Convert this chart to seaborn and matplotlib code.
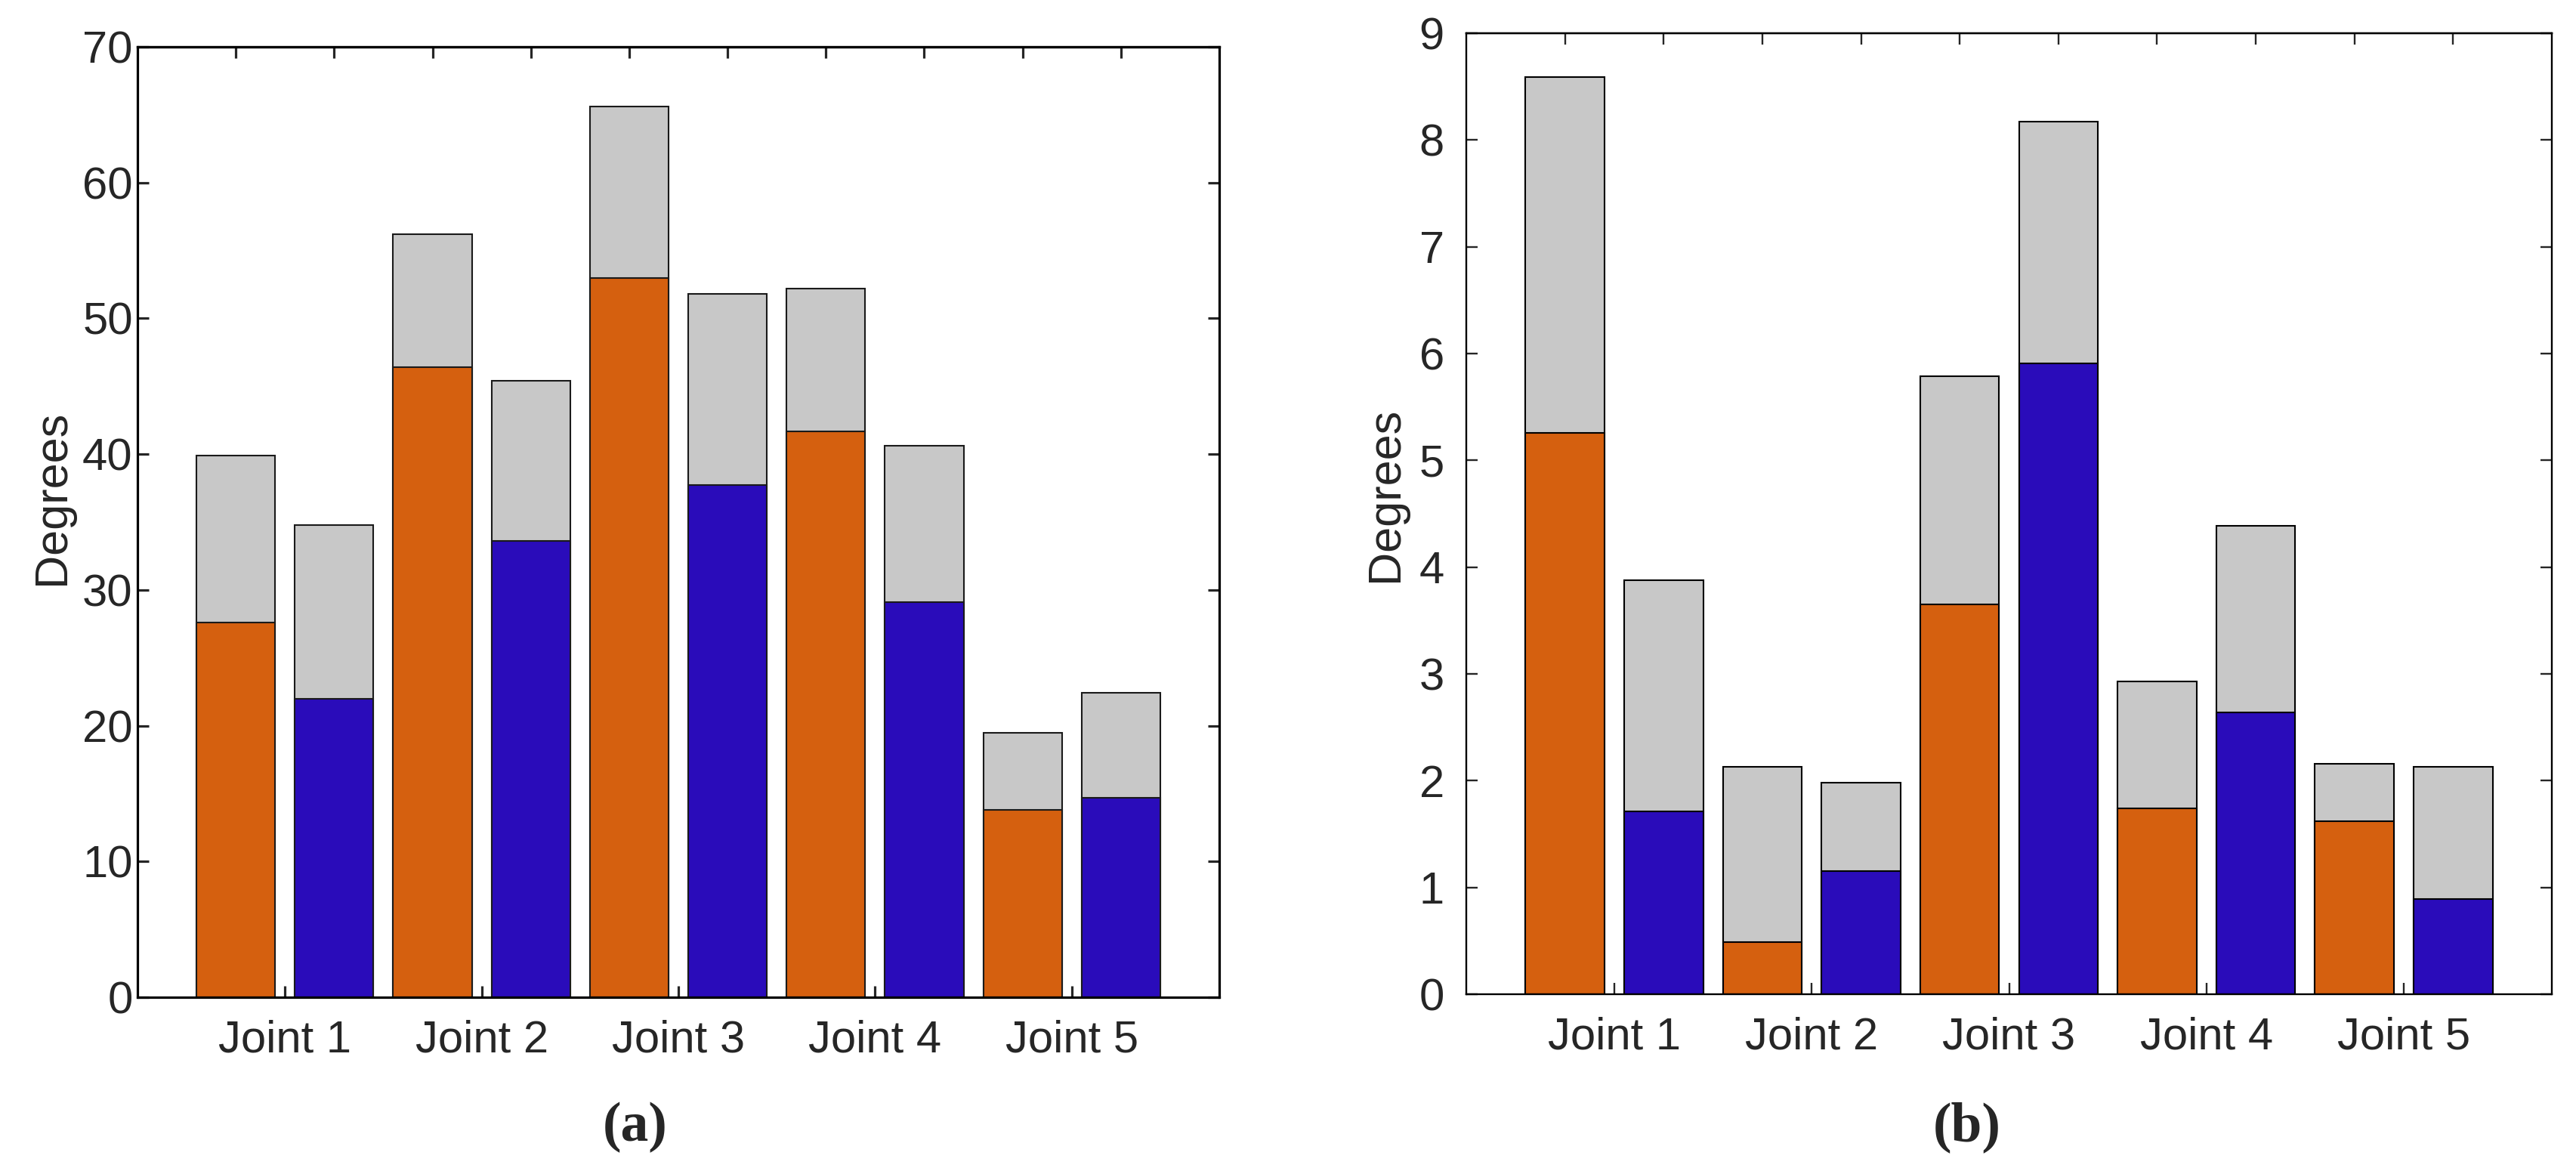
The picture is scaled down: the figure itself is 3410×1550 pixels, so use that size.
import matplotlib
matplotlib.use("Agg")
import matplotlib.pyplot as plt
import seaborn as sns
import pandas as pd
import numpy as np

# ---------------- data ----------------
joints = ["Joint 1", "Joint 2", "Joint 3", "Joint 4", "Joint 5"]
methods = ["A", "B"]  # orange, blue (alternating per joint)

# panel (a): lower (coloured) part and full bar height (grey on top)
a_base = [27.6, 22.0, 46.4, 33.6, 53.0, 37.7, 41.7, 29.1, 13.8, 14.7]
a_total = [39.9, 34.8, 56.2, 45.4, 65.6, 51.8, 52.2, 40.6, 19.5, 22.4]

# panel (b)
b_base = [5.26, 1.71, 0.49, 1.15, 3.65, 5.91, 1.74, 2.64, 1.62, 0.89]
b_total = [8.59, 3.88, 2.13, 1.98, 5.79, 8.17, 2.93, 4.39, 2.16, 2.13]

a_yticks = [0, 10, 20, 30, 40, 50, 60, 70]
b_yticks = [0, 1, 2, 3, 4, 5, 6, 7, 8, 9]
panel_labels = ["(a)", "(b)"]
ylabel = "Degrees"

orange = "#D5600F"
blue = "#2A0CBA"
grey = "#C8C8C8"

# ---------------- style ----------------
sns.set_style("ticks")
plt.rcParams["font.family"] = ["Liberation Sans", "DejaVu Sans"]

fig = plt.figure(figsize=(34.10, 15.50), dpi=100)


def make_df(base, total):
    pos = np.arange(1, len(base) + 1)
    return pd.DataFrame({
        "pos": pos,
        "joint": [joints[(p - 1) // 2] for p in pos],
        "method": [methods[(p - 1) % 2] for p in pos],
        "base": base,
        "total": total,
    })


def draw(rect, df, yticks, ymax, edge, spine_lw, ylab_pad, ylab_xy, lab_x, lab):
    ax = fig.add_axes(rect)
    sns.barplot(data=df, x="pos", y="total", native_scale=True, color=grey,
                saturation=1, edgecolor=edge, linewidth=1.5, errorbar=None, ax=ax)
    sns.barplot(data=df, x="pos", y="base", hue="method", native_scale=True,
                palette={"A": orange, "B": blue}, dodge=False, saturation=1,
                edgecolor=edge, linewidth=1.5, errorbar=None, legend=False, ax=ax)
    ax.set_xlim(0, 11)
    ax.set_ylim(0, ymax)
    ax.set_yticks(yticks)
    ax.set_yticklabels([str(t) for t in yticks])
    jpos = [1.5 + 2 * i for i in range(len(joints))]
    ax.set_xticks(jpos)
    ax.set_xticklabels(joints)
    ax.set_xlabel("")
    ax.set_ylabel(ylabel, fontsize=44)
    ax.yaxis.set_label_coords(*ylab_xy)
    ax.yaxis.label.set_verticalalignment("center")
    for s in ax.spines.values():
        s.set_visible(True)
        s.set_linewidth(spine_lw)
        s.set_color("black")
    ax.tick_params(axis="y", direction="in", length=11, width=spine_lw,
                   right=True, labelsize=43, pad=ylab_pad)
    ax.tick_params(axis="x", direction="in", length=11, width=spine_lw,
                   top=False, labelsize=43, pad=21)
    sec = ax.secondary_xaxis("top")
    sec.set_xticks(df["pos"].tolist())
    sec.tick_params(direction="in", length=11, width=spine_lw, labeltop=False)
    sec.spines["top"].set_linewidth(spine_lw)
    fig.text(lab_x, (1550 - 1510) / 1550, lab, family="Liberation Serif",
             fontweight="bold", fontsize=53, ha="center", va="baseline")
    return ax


dfa = make_df(a_base, a_total)
dfb = make_df(b_base, b_total)

draw([182 / 3410, (1550 - 1320) / 1550, 1432 / 3410, 1258 / 1550], dfa,
     a_yticks, 70, "#1a1a1a", 2.3, 4.5, (-0.0786, 0.526), 841 / 3410, panel_labels[0])
draw([1941 / 3410, (1550 - 1316) / 1550, 1437 / 3410, 1272 / 1550], dfb,
     b_yticks, 9, "black", 1.7, 21, (-0.074, 0.52), 2604 / 3410, panel_labels[1])

fig.savefig("out.png", dpi=100)
